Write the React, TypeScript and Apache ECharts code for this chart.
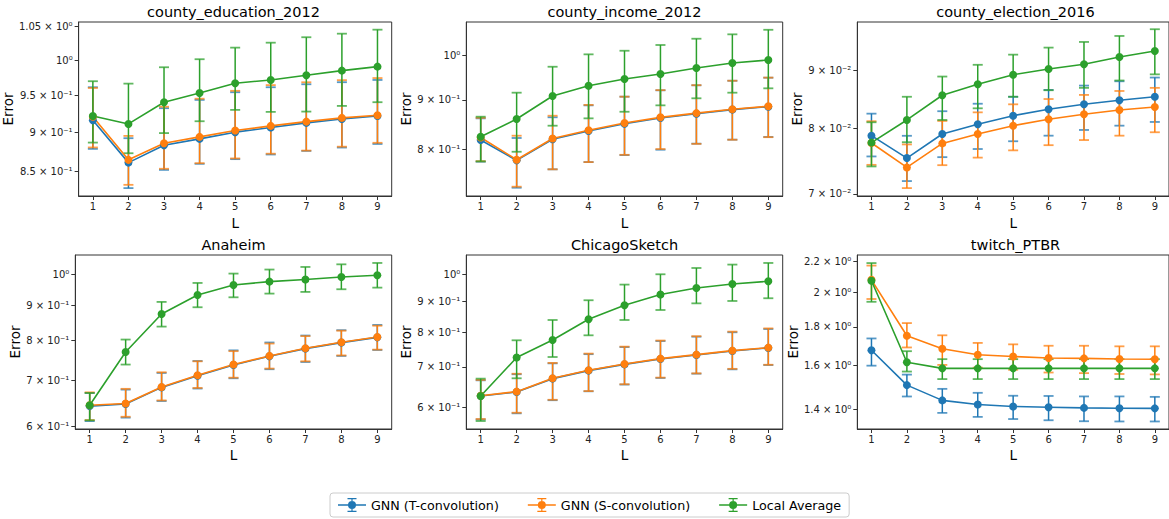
import React, { useEffect, useRef } from "react";
import * as echarts from "echarts";

const L = [1, 2, 3, 4, 5, 6, 7, 8, 9];
const METHODS = ["GNN (T-convolution)", "GNN (S-convolution)", "Local Average"];
const COLORS = ["#1f77b4", "#ff7f0e", "#2ca02c"];

// county_education_2012
const eduT = [0.9158, 0.8607, 0.8829, 0.8911, 0.8999, 0.906, 0.9122, 0.9175, 0.9215];
const eduTLo = [0.8782, 0.8292, 0.8516, 0.8592, 0.8651, 0.871, 0.8756, 0.8799, 0.8845];
const eduTHi = [0.961, 0.892, 0.932, 0.9434, 0.954, 0.961, 0.9652, 0.9681, 0.9713];
const eduS = [0.9205, 0.8642, 0.8855, 0.8937, 0.902, 0.9082, 0.9139, 0.9189, 0.9225];
const eduSLo = [0.88, 0.8332, 0.853, 0.86, 0.866, 0.872, 0.876, 0.881, 0.886];
const eduSHi = [0.96, 0.895, 0.934, 0.945, 0.956, 0.964, 0.968, 0.971, 0.974];
const eduA = [0.9215, 0.9108, 0.9402, 0.953, 0.9667, 0.9713, 0.978, 0.9846, 0.9904];
const eduALo = [0.8863, 0.8726, 0.8987, 0.9144, 0.9297, 0.927, 0.9274, 0.9351, 0.9402];
const eduAHi = [0.9695, 0.9661, 0.9895, 1.0012, 1.0183, 1.0257, 1.0339, 1.0393, 1.0454];
const eduTicks = [0.85, 0.9, 0.95, 1.0, 1.05];
const eduTickLabels = ["8.5 × 10⁻¹", "9 × 10⁻¹", "9.5 × 10⁻¹", "10⁰", "1.05 × 10⁰"];

// county_income_2012
const incT = [0.8176, 0.7786, 0.8189, 0.8351, 0.85, 0.8616, 0.8705, 0.879, 0.8853];
const incTLo = [0.7762, 0.7293, 0.7621, 0.7754, 0.7885, 0.7987, 0.8103, 0.8181, 0.8234];
const incTHi = [0.8609, 0.8214, 0.8631, 0.8881, 0.9067, 0.9206, 0.9317, 0.9419, 0.9488];
const incS = [0.8224, 0.7797, 0.8205, 0.8366, 0.8514, 0.863, 0.8718, 0.8798, 0.8861];
const incSLo = [0.777, 0.7311, 0.7621, 0.7754, 0.789, 0.8, 0.81, 0.818, 0.823];
const incSHi = [0.862, 0.8259, 0.8663, 0.889, 0.9067, 0.921, 0.932, 0.942, 0.949];
const incA = [0.8238, 0.8595, 0.9082, 0.9308, 0.9458, 0.9572, 0.971, 0.9827, 0.9898];
const incALo = [0.7767, 0.7948, 0.8459, 0.8609, 0.8746, 0.8881, 0.9032, 0.9154, 0.925];
const incAHi = [0.8643, 0.9154, 0.974, 1.0033, 1.012, 1.026, 1.0415, 1.0525, 1.064];
const incTicks = [0.8, 0.9, 1.0];
const incTickLabels = ["8 × 10⁻¹", "9 × 10⁻¹", "10⁰"];

// county_election_2016
const eleT = [0.0788, 0.07529, 0.07907, 0.08065, 0.08207, 0.08314, 0.08399, 0.08468, 0.08529];
const eleTLo = [0.07554, 0.07185, 0.07543, 0.07669, 0.07791, 0.0788, 0.07972, 0.08042, 0.08103];
const eleTHi = [0.08241, 0.07878, 0.08282, 0.08409, 0.08529, 0.08649, 0.08725, 0.08802, 0.08869];
const eleS = [0.07763, 0.07387, 0.07757, 0.07907, 0.08042, 0.08147, 0.0823, 0.08302, 0.08353];
const eleSLo = [0.07426, 0.07083, 0.07421, 0.07536, 0.07648, 0.07729, 0.0781, 0.0788, 0.07935];
const eleSHi = [0.08115, 0.07741, 0.0812, 0.08263, 0.08399, 0.0849, 0.08561, 0.0863, 0.08685];
const eleA = [0.07769, 0.08136, 0.08555, 0.08749, 0.08921, 0.09025, 0.09112, 0.09249, 0.09362];
const eleALo = [0.07402, 0.07776, 0.08136, 0.08331, 0.08529, 0.08643, 0.08685, 0.08816, 0.08927];
const eleAHi = [0.08098, 0.08529, 0.08887, 0.09102, 0.09292, 0.09426, 0.09535, 0.09652, 0.09785];
const eleTicks = [0.07, 0.08, 0.09];
const eleTickLabels = ["7 × 10⁻²", "8 × 10⁻²", "9 × 10⁻²"];

// Anaheim
const anaT = [0.6415, 0.646, 0.6833, 0.7107, 0.7369, 0.7587, 0.7785, 0.7945, 0.8087];
const anaTLo = [0.61, 0.6172, 0.6527, 0.6807, 0.7046, 0.7264, 0.7443, 0.7597, 0.775];
const anaTHi = [0.6706, 0.6783, 0.7174, 0.7468, 0.774, 0.7948, 0.8136, 0.8284, 0.8432];
const anaS = [0.6435, 0.6471, 0.6843, 0.7117, 0.7379, 0.7597, 0.7795, 0.7955, 0.8097];
const anaSLo = [0.612, 0.619, 0.654, 0.682, 0.706, 0.728, 0.746, 0.761, 0.776];
const anaSHi = [0.672, 0.68, 0.719, 0.746, 0.772, 0.792, 0.812, 0.827, 0.841];
const anaA = [0.6435, 0.7698, 0.8748, 0.9327, 0.9646, 0.9756, 0.9823, 0.991, 0.9966];
const anaALo = [0.6116, 0.7379, 0.8385, 0.8949, 0.9254, 0.937, 0.9423, 0.9508, 0.956];
const anaAHi = [0.6706, 0.8027, 0.9111, 0.9712, 1.0023, 1.016, 1.0249, 1.034, 1.0388];
const anaTicks = [0.6, 0.7, 0.8, 0.9, 1.0];
const anaTickLabels = ["6 × 10⁻¹", "7 × 10⁻¹", "8 × 10⁻¹", "9 × 10⁻¹", "10⁰"];

// ChicagoSketch
const chiT = [0.626, 0.6356, 0.6693, 0.6902, 0.707, 0.7219, 0.733, 0.7445, 0.7532];
const chiTLo = [0.572, 0.5857, 0.616, 0.6375, 0.6543, 0.6711, 0.6823, 0.6937, 0.7053];
const chiTHi = [0.665, 0.6807, 0.7099, 0.7354, 0.7558, 0.7735, 0.7866, 0.8, 0.8101];
const chiS = [0.6268, 0.6366, 0.6703, 0.6912, 0.708, 0.7229, 0.734, 0.7455, 0.7542];
const chiSLo = [0.573, 0.587, 0.617, 0.638, 0.655, 0.672, 0.683, 0.695, 0.706];
const chiSHi = [0.666, 0.682, 0.711, 0.737, 0.757, 0.775, 0.788, 0.802, 0.812];
const chiA = [0.626, 0.7258, 0.7766, 0.841, 0.8874, 0.9249, 0.9486, 0.9633, 0.9734];
const chiALo = [0.5686, 0.6702, 0.7274, 0.7907, 0.8387, 0.8716, 0.8942, 0.9024, 0.9119];
const chiAHi = [0.6693, 0.7757, 0.8387, 0.9049, 0.9611, 1.0, 1.0245, 1.038, 1.0445];
const chiTicks = [0.6, 0.7, 0.8, 0.9, 1.0];
const chiTickLabels = ["6 × 10⁻¹", "7 × 10⁻¹", "8 × 10⁻¹", "9 × 10⁻¹", "10⁰"];

// twitch_PTBR
const twT = [1.677, 1.508, 1.4395, 1.4216, 1.413, 1.41, 1.407, 1.4055, 1.405];
const twTLo = [1.6, 1.4567, 1.3858, 1.369, 1.36, 1.355, 1.351, 1.35, 1.35];
const twTHi = [1.7382, 1.557, 1.4909, 1.473, 1.46, 1.459, 1.457, 1.457, 1.455];
const twS = [2.078, 1.7526, 1.6844, 1.6537, 1.645, 1.638, 1.636, 1.633, 1.6316];
const twSLo = [1.96, 1.6912, 1.6036, 1.5904, 1.58, 1.567, 1.564, 1.56, 1.558];
const twSHi = [2.17, 1.8215, 1.755, 1.7147, 1.7073, 1.7, 1.7, 1.697, 1.697];
const twA = [2.072, 1.6166, 1.587, 1.587, 1.587, 1.587, 1.587, 1.587, 1.587];
const twALo = [1.9434, 1.5716, 1.536, 1.536, 1.536, 1.536, 1.536, 1.536, 1.536];
const twAHi = [2.1866, 1.6721, 1.632, 1.632, 1.632, 1.632, 1.632, 1.632, 1.632];
const twTicks = [1.4, 1.6, 1.8, 2.0, 2.2];
const twTickLabels = ["1.4 × 10⁰", "1.6 × 10⁰", "1.8 × 10⁰", "2 × 10⁰", "2.2 × 10⁰"];

const TITLES = ["county_education_2012", "county_income_2012", "county_election_2016", "Anaheim", "ChicagoSketch", "twitch_PTBR"];
const Y_RANGES = [
  [0.8197, 1.0572],
  [0.715, 1.084],
  [0.0697, 0.0993],
  [0.594, 1.067],
  [0.5514, 1.077],
  [1.3194, 2.241],
];

const FONT = "DejaVu Sans";

export default function App() {
  const ref = useRef<HTMLDivElement>(null);
  useEffect(() => {
    if (!ref.current) return;
    const chart = echarts.init(ref.current, null, { renderer: "svg" });

    const panels = [
      { mean: [eduT, eduS, eduA], lo: [eduTLo, eduSLo, eduALo], hi: [eduTHi, eduSHi, eduAHi], ticks: eduTicks, labels: eduTickLabels, nameGap: 49 },
      { mean: [incT, incS, incA], lo: [incTLo, incSLo, incALo], hi: [incTHi, incSHi, incAHi], ticks: incTicks, labels: incTickLabels, nameGap: 39 },
      { mean: [eleT, eleS, eleA], lo: [eleTLo, eleSLo, eleALo], hi: [eleTHi, eleSHi, eleAHi], ticks: eleTicks, labels: eleTickLabels, nameGap: 40.5 },
      { mean: [anaT, anaS, anaA], lo: [anaTLo, anaSLo, anaALo], hi: [anaTHi, anaSHi, anaAHi], ticks: anaTicks, labels: anaTickLabels, nameGap: 40.5 },
      { mean: [chiT, chiS, chiA], lo: [chiTLo, chiSLo, chiALo], hi: [chiTHi, chiSHi, chiAHi], ticks: chiTicks, labels: chiTickLabels, nameGap: 39 },
      { mean: [twT, twS, twA], lo: [twTLo, twSLo, twALo], hi: [twTHi, twSHi, twAHi], ticks: twTicks, labels: twTickLabels, nameGap: 44 },
    ];

    const colLeft = [75.3, 466.3, 857.3];
    const rowTop = [22, 255];
    const W = 316.4;
    const H = 174;

    const grids: any[] = [];
    const xAxes: any[] = [];
    const yAxes: any[] = [];
    const titles: any[] = [];
    const series: any[] = [];
    const axisColor = "#333";

    panels.forEach((p, i) => {
      const r = Math.floor(i / 3);
      const c = i % 3;
      grids.push({
        left: colLeft[c],
        top: rowTop[r],
        width: W,
        height: H,
        show: true,
        borderColor: axisColor,
        borderWidth: 1,
        backgroundColor: "transparent",
        containLabel: false,
      });
      titles.push({
        text: TITLES[i],
        left: colLeft[c] + W / 2,
        top: rowTop[r] - 18,
        textAlign: "center",
        padding: 0,
        textStyle: { fontFamily: FONT, fontSize: 14.5, fontWeight: "normal", color: "#000" },
      });
      xAxes.push({
        type: "value",
        gridIndex: i,
        min: 0.6,
        max: 9.4,
        name: "L",
        nameLocation: "middle",
        nameGap: r === 0 ? 19.5 : 18.5,
        nameTextStyle: { fontFamily: FONT, fontSize: 13.5, color: "#000" },
        axisLine: { show: true, lineStyle: { color: axisColor, width: 1 } },
        axisTick: { show: true, inside: false, length: 4, lineStyle: { color: axisColor }, customValues: L },
        axisLabel: { show: true, margin: 5, fontFamily: FONT, fontSize: 10, color: "#222", customValues: L },
        splitLine: { show: false },
      });
      yAxes.push({
        type: "log",
        logBase: 10,
        gridIndex: i,
        min: Y_RANGES[i][0],
        max: Y_RANGES[i][1],
        name: "Error",
        nameLocation: "middle",
        nameGap: p.nameGap,
        nameTextStyle: { fontFamily: FONT, fontSize: 13.5, color: "#000" },
        axisLine: { show: true, lineStyle: { color: axisColor, width: 1 } },
        axisTick: { show: true, inside: false, length: 4, lineStyle: { color: axisColor }, customValues: p.ticks },
        axisLabel: {
          show: true,
          margin: 6,
          fontFamily: FONT,
          fontSize: 10,
          color: "#222",
          customValues: p.ticks,
          formatter: (v: number) => {
            let best = "";
            let bd = Infinity;
            p.ticks.forEach((t, k) => {
              const d = Math.abs(t - v);
              if (d < bd) {
                bd = d;
                best = p.labels[k];
              }
            });
            return best;
          },
        },
        splitLine: { show: false },
        minorTick: { show: false },
      });

      for (let m = 0; m < 3; m++) {
        const color = COLORS[m];
        const lo = p.lo[m];
        const hi = p.hi[m];
        series.push({
          type: "custom",
          xAxisIndex: i,
          yAxisIndex: i,
          silent: true,
          clip: false,
          encode: { x: 0, y: [1, 2] },
          data: L.map((x, k) => [x, lo[k], hi[k]]),
          renderItem: (params: any, api: any) => {
            const x = api.value(0);
            const a = api.coord([x, api.value(1)]);
            const b = api.coord([x, api.value(2)]);
            const cap = 5;
            return {
              type: "group",
              children: [
                { type: "line", shape: { x1: a[0], y1: a[1], x2: b[0], y2: b[1] }, style: { stroke: color, lineWidth: 1.5 } },
                { type: "line", shape: { x1: a[0] - cap, y1: a[1], x2: a[0] + cap, y2: a[1] }, style: { stroke: color, lineWidth: 1.8, opacity: 0.75 } },
                { type: "line", shape: { x1: b[0] - cap, y1: b[1], x2: b[0] + cap, y2: b[1] }, style: { stroke: color, lineWidth: 1.8, opacity: 0.75 } },
              ],
            };
          },
        });
        series.push({
          type: "line",
          name: METHODS[m],
          xAxisIndex: i,
          yAxisIndex: i,
          data: L.map((x, k) => [x, p.mean[m][k]]),
          symbol: "circle",
          symbolSize: 8,
          showSymbol: true,
          color: color,
          itemStyle: { color: color },
          lineStyle: { color: color, width: 1.6 },
          silent: true,
        });
      }
    });

    const iconPath =
      "path://M0,6.3H28V7.7H0Z M13.4,0H14.6V14H13.4Z M9.5,0H18.5V1.3H9.5Z M9.5,12.7H18.5V14H9.5Z M18,7A4,4,0,1,1,10,7A4,4,0,1,1,18,7Z";

    chart.setOption({
      animation: false,
      backgroundColor: "#fff",
      title: titles,
      grid: grids,
      xAxis: xAxes,
      yAxis: yAxes,
      legend: {
        data: METHODS.map((n) => ({ name: n, icon: iconPath })),
        left: 330,
        top: 493,
        orient: "horizontal",
        itemWidth: 28,
        itemHeight: 14,
        itemGap: 29,
        padding: [5, 8],
        borderColor: "#ccc",
        borderWidth: 1,
        borderRadius: 3,
        textStyle: { fontFamily: FONT, fontSize: 12.7, color: "#000" },
        selectedMode: false,
      },
      series,
    });

    return () => chart.dispose();
  }, []);

  return <div ref={ref} style={{ position: "absolute", left: 0, top: 0, width: 1169, height: 519 }} />;
}
